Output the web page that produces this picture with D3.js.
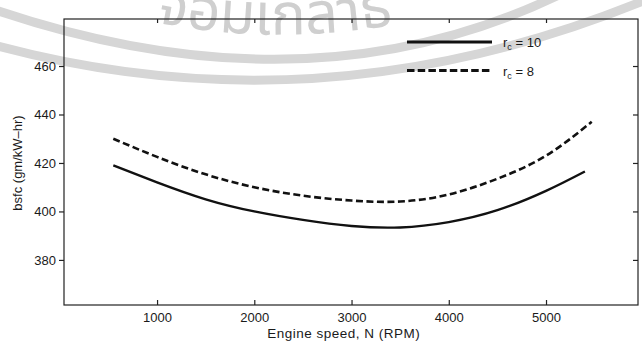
<!DOCTYPE html>
<html>
<head>
<meta charset="utf-8">
<title>bsfc vs engine speed</title>
<script src="https://d3js.org/d3.v7.min.js"></script>
<style>
  body { margin: 0; background: #fff; }
  svg { display: block; font-family: "Liberation Sans", Arial, sans-serif; }
  .axis path { display: none; }
  .axis line { stroke: #222; stroke-width: 1.2px; }
  .axis text { fill: #1a1a1a; font-size: 13px; }
</style>
</head>
<body>
<svg width="642" height="344"></svg>
<script>
// values
var speedRc10 = [550, 1000, 1500, 2000, 2500, 3000, 3500, 4000, 4500, 5000, 5400];
var bsfcRc10  = [419, 412, 405, 400, 396.5, 394, 393.4, 395.6, 400.5, 408.5, 416.5];
var speedRc8  = [550, 1000, 1500, 2000, 2500, 3000, 3500, 4000, 4500, 5000, 5470];
var bsfcRc8   = [430, 422.5, 415.3, 410, 406.5, 404.5, 404.1, 407, 413.5, 423, 437];
var xTicks = [1000, 2000, 3000, 4000, 5000];
var yTicks = [380, 400, 420, 440, 460];

var svg = d3.select("svg"),
    margin = {top: 19, right: 4, bottom: 39, left: 64},
    width = svg.attr("width") - margin.left - margin.right,
    height = svg.attr("height") - margin.top - margin.bottom;

// faint watermark from the scanned page
var wm = svg.append("g").attr("fill", "none").attr("stroke", "#d6d6d6").attr("stroke-width", 9);
wm.append("path").attr("d", "M-10,8 Q310,118 565,-8");
wm.append("path").attr("d", "M-10,44 Q325,136 660,-6");
wm.append("path").attr("id", "wmtext").attr("d", "M120,14 Q285,58 470,8").attr("stroke", "none");
wm.append("text")
    .attr("fill", "#cfcfcf").attr("stroke", "none")
    .style("font-family", "'Noto Sans Thai', Loma, Garuda, Norasi, 'DejaVu Sans', sans-serif")
    .style("font-size", "58px")
  .append("textPath")
    .attr("href", "#wmtext").attr("startOffset", 36)
    .text("จอมเกล้าธ");

var g = svg.append("g").attr("transform", "translate(" + margin.left + "," + margin.top + ")");

var x = d3.scaleLinear().domain([43, 5946]).range([0, width]),
    y = d3.scaleLinear().domain([361.4, 479.4]).range([height, 0]);

// frame
g.append("rect")
    .attr("width", width).attr("height", height)
    .attr("fill", "none").attr("stroke", "#222").attr("stroke-width", 1.2);

g.append("g").attr("class", "axis")
    .attr("transform", "translate(0," + height + ")")
    .call(d3.axisBottom(x).tickValues(xTicks).tickSize(-5).tickPadding(8).tickFormat(d3.format("d")));

g.append("g").attr("class", "axis")
    .call(d3.axisTop(x).tickValues(xTicks).tickSize(-4).tickFormat(""));

g.append("g").attr("class", "axis")
    .call(d3.axisLeft(y).tickValues(yTicks).tickSize(5).tickPadding(3));

g.append("g").attr("class", "axis")
    .attr("transform", "translate(" + width + ",0)")
    .call(d3.axisRight(y).tickValues(yTicks).tickSize(-5).tickFormat(""));

// axis titles
svg.append("text")
    .attr("x", margin.left + x(2920)).attr("y", 338)
    .attr("text-anchor", "middle")
    .style("font-size", "13.5px").style("letter-spacing", "0.5px").attr("fill", "#1a1a1a")
    .text("Engine speed, N (RPM)");

svg.append("text")
    .attr("transform", "translate(22," + (margin.top + y(420)) + ") rotate(-90)")
    .attr("text-anchor", "middle")
    .style("font-size", "13px").attr("fill", "#1a1a1a")
    .text("bsfc (gm/kW–hr)");

// curves
var line = d3.line()
    .curve(d3.curveNatural)
    .x(function(d) { return x(d[0]); })
    .y(function(d) { return y(d[1]); });

var series = [
  {id: "rc10", label: "10", dash: null, values: d3.zip(speedRc10, bsfcRc10)},
  {id: "rc8",  label: "8",  dash: "7,3.5", values: d3.zip(speedRc8, bsfcRc8)}
];

g.selectAll(".curve")
    .data(series)
    .enter().append("path")
    .attr("class", "curve")
    .attr("fill", "none")
    .attr("stroke", "#111")
    .attr("stroke-width", function(d) { return d.dash ? 2.6 : 2.4; })
    .attr("stroke-dasharray", function(d) { return d.dash; })
    .attr("d", function(d) { return line(d.values); });

// legend
var legend = svg.append("g").attr("transform", "translate(407,42)");
var item = legend.selectAll("g")
    .data(series)
    .enter().append("g")
    .attr("transform", function(d, i) { return "translate(0," + (i * 28.5) + ")"; });

item.append("line")
    .attr("x1", 0).attr("x2", 85)
    .attr("stroke", "#111")
    .attr("stroke-width", 2.8)
    .attr("stroke-dasharray", function(d) { return d.dash ? "7.5,3.2" : null; });

var lt = item.append("text")
    .attr("x", 96).attr("y", 5)
    .style("font-size", "13px").attr("fill", "#1a1a1a");
lt.append("tspan").text("r");
lt.append("tspan").attr("dy", 3).style("font-size", "9px").text("c");
lt.append("tspan").attr("dy", -3).text(function(d) { return " = " + d.label; });
</script>
</body>
</html>
